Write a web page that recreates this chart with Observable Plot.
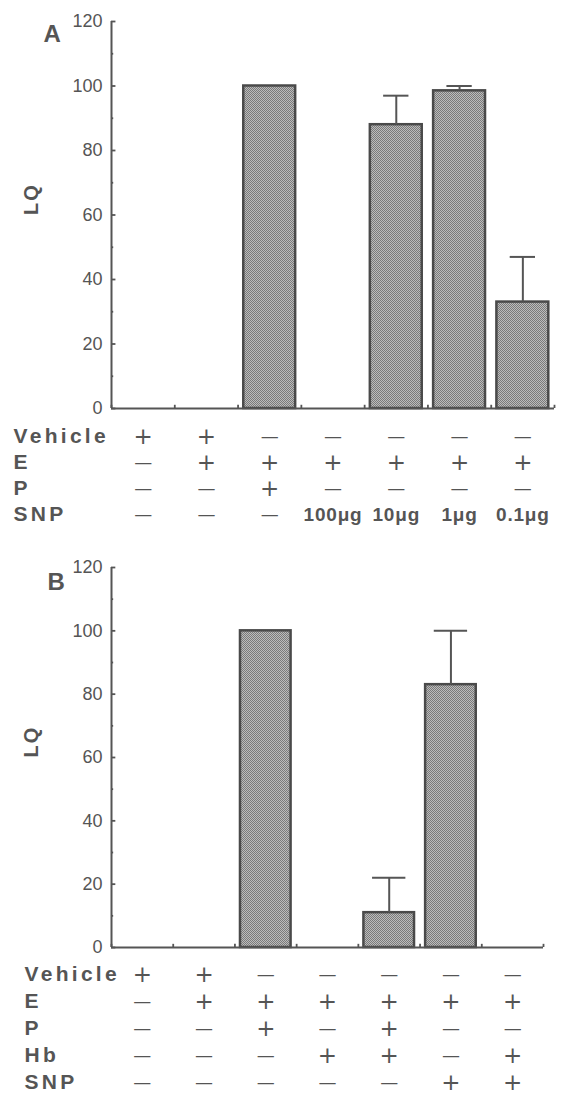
<!DOCTYPE html>
<html><head><meta charset="utf-8">
<script src="https://cdn.jsdelivr.net/npm/d3@7"></script>
<script src="https://cdn.jsdelivr.net/npm/@observablehq/plot@0.6"></script>
<style>
body{margin:0;background:#fff;}
#chart svg{display:block;}
</style></head><body><div id="chart"></div>
<script>
// ---- data ----
const columns = [0,1,2,3,4,5,6];
const yTicks = [0,20,40,60,80,100,120];
const yMinor = [10,30,50,70,90,110];

const valuesA = [0,0,100,0,88,98.5,33];
const errA = [null,null,null,null,97,100,47];
const rowsA = ["Vehicle","E","P","SNP"];
const vehicleA = ["+","+","—","—","—","—","—"];
const eA = ["—","+","+","+","+","+","+"];
const pA = ["—","—","+","—","—","—","—"];
const snpA = ["—","—","—","100μg","10μg","1μg","0.1μg"];

const valuesB = [0,0,100,0,11,83,0];
const errB = [null,null,null,null,22,100,null];
const rowsB = ["Vehicle","E","P","Hb","SNP"];
const vehicleB = ["+","+","—","—","—","—","—"];
const eB = ["—","+","+","+","+","+","+"];
const pB = ["—","—","+","—","+","—","—"];
const hbB = ["—","—","—","+","+","—","+"];
const snpB = ["—","—","—","—","—","+","+"];

// ---- styles ----
const font = "'Liberation Sans', Arial, Helvetica, sans-serif";
const symFont = "'DejaVu Sans', sans-serif";
const ink = "#555";
const pad = 0.09;

function addPattern(svg, id) {
  d3.select(svg).insert("defs", ":first-child").html(
    `<pattern id="${id}" width="2" height="2" patternUnits="userSpaceOnUse">
       <rect width="2" height="2" fill="#bcbcbc"/>
       <rect width="1" height="1" fill="#7a7a7a"/>
       <rect x="1" y="1" width="1" height="1" fill="#7a7a7a"/>
     </pattern>`);
}

function barPanel({values, err, label, height, marginTop, marginBottom, marginRight, capHalf, patternId, labelDx, labelDy}) {
  const bars = columns.map(i => ({col: i, v: values[i]})).filter(d => d.v > 0);
  const errs = columns.map(i => ({col: i, v: values[i], hi: err[i]})).filter(d => d.hi != null);
  const svg = Plot.plot({
    width: 564, height, marginTop, marginBottom, marginLeft: 111, marginRight,
    style: {fontFamily: font, background: "transparent", color: ink, overflow: "visible"},
    x: {domain: [0, 7], axis: null},
    y: {domain: [0, 120], axis: null},
    marks: [
      Plot.ruleY(yTicks, {y: d => d, x1: 0, x2: 0.07, stroke: ink, strokeWidth: 1.8}),
      Plot.ruleY(yMinor, {y: d => d, x1: 0, x2: 0.035, stroke: ink, strokeWidth: 1.8}),
      Plot.ruleX(d3.range(8), {x: d => d, y1: 0, y2: 1, stroke: ink, strokeWidth: 1.8}),
      Plot.rectY(bars, {x1: d => d.col + pad, x2: d => d.col + 1 - pad, y1: 0, y2: "v",
        fill: `url(#${patternId})`, stroke: "#4a4a4a", strokeWidth: 2.5}),
      Plot.ruleX(errs, {x: d => d.col + 0.5, y1: "v", y2: "hi", stroke: ink, strokeWidth: 2}),
      Plot.ruleY(errs, {y: "hi", x1: d => d.col + 0.5 - capHalf, x2: d => d.col + 0.5 + capHalf, stroke: ink, strokeWidth: 2}),
      Plot.ruleX([0], {stroke: ink, strokeWidth: 2}),
      Plot.ruleY([0], {stroke: ink, strokeWidth: 2}),
      Plot.text(yTicks, {y: d => d, frameAnchor: "left", textAnchor: "end", dx: -9, text: d => String(d), fontSize: 18, fill: ink}),
      Plot.text(["LQ"], {frameAnchor: "left", dx: -80, rotate: -90, text: d => d, fontSize: 20, fontWeight: "bold", fill: ink}),
      Plot.text([label], {frameAnchor: "top-left", dx: labelDx, dy: labelDy, text: d => d, fontSize: 24, fontWeight: "bold", fill: ink})
    ]
  });
  addPattern(svg, patternId);
  d3.select(svg).selectAll("text").filter(function() { return this.textContent === "LQ"; }).attr("letter-spacing", 2);
  return svg;
}

function tablePanel({rows, grid, height, yRange, marginRight, labelDx}) {
  const cells = rows.flatMap((r, ri) => grid[ri].map((v, c) => ({row: r, col: c, v})));
  const svg = Plot.plot({
    width: 564, height, marginLeft: 111, marginRight, marginTop: 0, marginBottom: 0,
    style: {fontFamily: font, background: "transparent", color: ink, overflow: "visible"},
    x: {domain: [0, 7], axis: null},
    y: {type: "point", domain: rows, range: yRange, padding: 0, axis: null},
    marks: [
      Plot.text(rows, {y: d => d, frameAnchor: "left", textAnchor: "start", dx: labelDx, text: d => d, fontSize: 21, fontWeight: "bold", fill: ink}),
      Plot.text(cells.filter(d => d.v === "+"), {x: d => d.col + 0.5, y: "row", text: "v", fontSize: 23, fontFamily: symFont, fill: ink}),
      Plot.text(cells.filter(d => d.v === "—"), {x: d => d.col + 0.5, y: "row", text: "v", fontSize: 18, fontFamily: symFont, fill: ink}),
      Plot.text(cells.filter(d => d.v.length > 1), {x: d => d.col + 0.5, y: "row", text: "v", fontSize: 19, fontWeight: "bold", fill: ink})
    ]
  });
  d3.select(svg).selectAll("text").filter(function() { return rows.includes(this.textContent); }).attr("letter-spacing", 3.3);
  d3.select(svg).selectAll("text").filter(function() { return /μg/.test(this.textContent); }).attr("letter-spacing", 0.8);
  return svg;
}

const chart = document.getElementById("chart");
chart.append(barPanel({values: valuesA, err: errA, label: "A", height: 420, marginTop: 21, marginBottom: 12,
  marginRight: 10, capHalf: 0.2, patternId: "stipA", labelDx: -68, labelDy: 3}));
chart.append(tablePanel({rows: rowsA, grid: [vehicleA, eA, pA, snpA], height: 130, yRange: [15, 95],
  marginRight: 10, labelDx: -98}));
chart.append(barPanel({values: valuesB, err: errB, label: "B", height: 407, marginTop: 17, marginBottom: 10,
  marginRight: 21, capHalf: 0.27, patternId: "stipB", labelDx: -64, labelDy: 5}));
chart.append(tablePanel({rows: rowsB, grid: [vehicleB, eB, pB, hbB, snpB], height: 136, yRange: [17, 125],
  marginRight: 21, labelDx: -87}));
</script>
</body></html>
